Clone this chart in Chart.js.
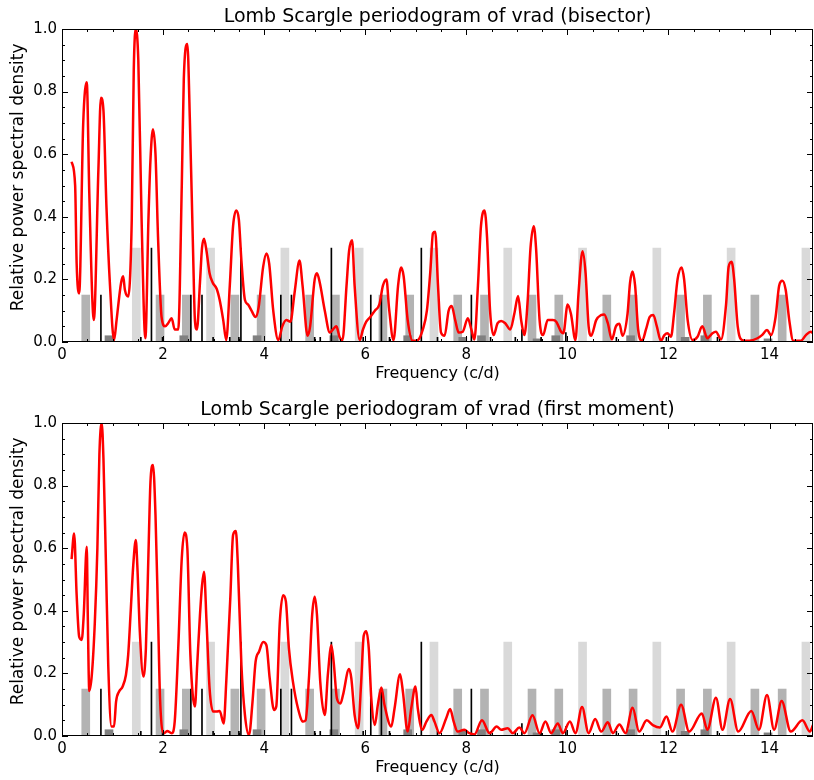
<!DOCTYPE html>
<html>
<head>
<meta charset="utf-8">
<script src="https://cdn.jsdelivr.net/npm/chart.js@4.4.0/dist/chart.umd.min.js"></script>
<style>
body{margin:0;background:#fff}
canvas{display:block}
</style>
</head>
<body>
<canvas id="top" width="814" height="390"></canvas>
<canvas id="bottom" width="814" height="390"></canvas>
<script>
// window / alias markers (c/d), same in both panels
var lightFreq=[1.47,2.94,4.41,5.88,7.36,8.82,10.30,11.77,13.24,14.72];
var lightHeight=0.3;
var medFreq=[0.47,1.94,2.46,3.42,3.94,4.90,5.41,6.35,6.88,7.83,8.36,9.30,9.83,10.78,11.30,12.24,12.77,13.71,14.25];
var medHeight=0.15;
var darkFreq=[0.93,2.41,3.86,5.38,6.84,7.93,8.30,9.40,9.77,11.25,12.33,12.72,13.97];
var darkHeight=[0.02,0.02,0.02,0.02,0.02,0.015,0.02,0.01,0.02,0.02,0.015,0.02,0.01];
var blackFreq=[0.77,1.56,1.77,1.99,2.55,2.77,2.99,3.32,3.50,3.54,4.33,4.54,5.00,5.11,5.33,5.96,6.11,6.32,6.48,7.11,7.43,8.10,8.48,8.97,9.10,9.48,9.97,10.97,11.96,12.97];
var blackHeight=[0.15,0.015,0.3,0.015,0.15,0.15,0.015,0.015,0.015,0.3,0.15,0.15,0.015,0.015,0.3,0.015,0.15,0.15,0.015,0.3,0.015,0.15,0.015,0.015,0.04,0.015,0.03,0.015,0.015,0.015];

// periodogram of vrad (bisector)
var bisFreq=[0.19,0.26,0.29,0.34,0.42,0.49,0.54,0.63,0.72,0.77,0.82,0.88,0.95,1.03,1.08,1.17,1.21,1.245,1.31,1.38,1.42,1.46,1.51,1.575,1.65,1.71,1.75,1.80,1.85,1.90,1.97,2.04,2.10,2.17,2.23,2.30,2.37,2.41,2.48,2.53,2.595,2.63,2.67,2.73,2.77,2.81,2.86,2.92,2.98,3.06,3.12,3.19,3.25,3.32,3.385,3.45,3.50,3.55,3.62,3.68,3.75,3.83,3.89,3.98,4.045,4.10,4.18,4.28,4.36,4.44,4.52,4.60,4.70,4.76,4.86,4.91,5.00,5.045,5.10,5.20,5.30,5.36,5.43,5.49,5.55,5.63,5.68,5.74,5.79,5.89,5.955,6.02,6.10,6.19,6.28,6.35,6.42,6.47,6.56,6.65,6.71,6.76,6.84,6.94,7.04,7.14,7.22,7.29,7.34,7.385,7.44,7.50,7.57,7.65,7.71,7.78,7.85,7.93,8.03,8.10,8.16,8.23,8.29,8.36,8.41,8.47,8.54,8.62,8.69,8.77,8.87,8.95,9.025,9.085,9.15,9.215,9.27,9.335,9.38,9.45,9.52,9.61,9.71,9.78,9.875,9.92,10.005,10.07,10.16,10.22,10.30,10.36,10.42,10.47,10.57,10.665,10.73,10.80,10.88,10.96,11.03,11.09,11.19,11.24,11.29,11.34,11.40,11.48,11.555,11.63,11.70,11.77,11.85,11.92,11.98,12.05,12.11,12.18,12.26,12.31,12.38,12.48,12.575,12.67,12.77,12.87,12.94,13.04,13.14,13.19,13.25,13.30,13.37,13.46,13.60,13.76,13.85,13.95,14.03,14.12,14.19,14.255,14.32,14.39,14.47,14.62,14.72,14.815,14.86];
var bisPower=[0.576,0.50,0.25,0.155,0.70,0.83,0.475,0.07,0.55,0.78,0.74,0.43,0.18,0.006,0.07,0.19,0.21,0.166,0.145,0.39,0.87,1.0,0.90,0.39,0.012,0.39,0.58,0.68,0.60,0.336,0.08,0.05,0.06,0.076,0.04,0.04,0.50,0.84,0.952,0.71,0.28,0.07,0.04,0.19,0.30,0.33,0.29,0.22,0.19,0.17,0.134,0.07,0.006,0.18,0.37,0.42,0.39,0.26,0.134,0.12,0.10,0.08,0.11,0.24,0.283,0.25,0.10,0.006,0.05,0.07,0.065,0.155,0.26,0.18,0.02,0.05,0.20,0.22,0.19,0.10,0.03,0.04,0.05,0.017,0.006,0.18,0.29,0.325,0.18,0.006,0.04,0.065,0.08,0.10,0.12,0.18,0.20,0.11,0.006,0.18,0.238,0.21,0.07,0.004,0.006,0.04,0.10,0.23,0.347,0.352,0.18,0.03,0.02,0.10,0.115,0.07,0.03,0.033,0.076,0.04,0.008,0.18,0.37,0.42,0.336,0.10,0.022,0.06,0.067,0.06,0.04,0.09,0.147,0.07,0.022,0.134,0.30,0.37,0.30,0.07,0.022,0.07,0.07,0.065,0.033,0.028,0.12,0.09,0.006,0.155,0.29,0.22,0.05,0.02,0.07,0.086,0.088,0.06,0.008,0.05,0.058,0.02,0.09,0.19,0.225,0.18,0.04,0.004,0.04,0.08,0.086,0.05,0.004,0.022,0.028,0.017,0.09,0.20,0.238,0.20,0.07,0.006,0.017,0.05,0.012,0.028,0.033,0.008,0.12,0.24,0.256,0.20,0.05,0.006,0.004,0.012,0.022,0.038,0.022,0.08,0.18,0.196,0.166,0.07,0.004,0.004,0.022,0.033,0.028];

// periodogram of vrad (first moment)
var fmFreq=[0.19,0.24,0.29,0.34,0.39,0.43,0.49,0.51,0.54,0.59,0.65,0.70,0.74,0.785,0.82,0.87,0.915,0.98,1.03,1.07,1.13,1.20,1.265,1.31,1.36,1.41,1.46,1.49,1.54,1.61,1.66,1.71,1.75,1.80,1.85,1.90,1.94,2.02,2.08,2.17,2.23,2.30,2.37,2.425,2.48,2.54,2.63,2.675,2.73,2.77,2.81,2.86,2.92,2.99,3.06,3.12,3.20,3.25,3.33,3.385,3.44,3.48,3.55,3.62,3.70,3.77,3.83,3.90,3.98,4.045,4.11,4.195,4.24,4.31,4.375,4.43,4.49,4.57,4.67,4.77,4.82,4.89,4.95,5.00,5.045,5.11,5.20,5.26,5.33,5.375,5.44,5.51,5.56,5.68,5.725,5.79,5.86,5.92,5.97,6.02,6.07,6.12,6.19,6.25,6.32,6.38,6.515,6.58,6.69,6.745,6.84,6.91,6.995,7.04,7.13,7.21,7.31,7.37,7.47,7.60,7.68,7.75,7.83,7.96,8.06,8.16,8.31,8.46,8.60,8.69,8.82,8.92,9.05,9.15,9.31,9.45,9.565,9.68,9.81,9.91,10.05,10.16,10.29,10.42,10.55,10.67,10.80,10.90,11.03,11.15,11.29,11.42,11.57,11.69,11.83,11.96,12.08,12.25,12.41,12.66,12.77,12.94,13.07,13.22,13.38,13.64,13.79,13.95,14.09,14.24,14.42,14.65,14.80,14.86];
var fmPower=[0.565,0.647,0.45,0.317,0.307,0.387,0.605,0.387,0.144,0.195,0.365,0.60,0.90,1.0,0.887,0.546,0.227,0.03,0.03,0.11,0.142,0.158,0.195,0.26,0.40,0.546,0.626,0.546,0.333,0.19,0.28,0.578,0.81,0.866,0.706,0.387,0.12,0.009,0.016,0.009,0.046,0.28,0.568,0.65,0.60,0.26,0.094,0.227,0.387,0.48,0.525,0.365,0.152,0.078,0.078,0.08,0.04,0.173,0.44,0.642,0.655,0.546,0.227,0.067,0.003,0.11,0.237,0.27,0.30,0.29,0.184,0.083,0.094,0.365,0.45,0.43,0.28,0.173,0.088,0.046,0.05,0.195,0.387,0.445,0.387,0.173,0.067,0.195,0.29,0.237,0.12,0.104,0.131,0.214,0.184,0.067,0.025,0.173,0.32,0.335,0.28,0.12,0.035,0.10,0.155,0.10,0.03,0.088,0.197,0.142,0.014,0.088,0.158,0.088,0.02,0.046,0.067,0.046,0.009,0.056,0.086,0.046,0.014,0.02,0.009,0.005,0.05,0.009,0.03,0.02,0.025,0.009,0.027,0.009,0.066,0.009,0.046,0.009,0.04,0.009,0.046,0.009,0.093,0.009,0.054,0.014,0.044,0.009,0.037,0.009,0.09,0.014,0.05,0.035,0.027,0.062,0.014,0.10,0.014,0.072,0.02,0.122,0.02,0.118,0.014,0.08,0.02,0.131,0.02,0.112,0.014,0.05,0.014,0.035];

var FONT='DejaVu Sans';

function pts(xs,ys){
  var out=[];
  for(var i=0;i<xs.length;i++){
    out.push({x:xs[i],y:(typeof ys==='number')?ys:ys[i]});
  }
  return out;
}

// matplotlib-like frame with inward ticks on all four sides
var frameTicks={
  id:'frameTicks',
  afterDraw:function(chart){
    var ctx=chart.ctx,a=chart.chartArea,xs=chart.scales.x,ys=chart.scales.y;
    ctx.save();
    ctx.strokeStyle='#000';
    ctx.lineWidth=1;
    ctx.beginPath();
    for(var i=0;i*0.5<=xs.max;i++){
      var px=Math.round(xs.getPixelForValue(i*0.5))+0.5;
      var len=(i%4==0)?6:3;
      ctx.moveTo(px,a.bottom);ctx.lineTo(px,a.bottom-len);
      ctx.moveTo(px,a.top);ctx.lineTo(px,a.top+len);
    }
    for(var j=0;j<=20;j++){
      var py=Math.round(ys.getPixelForValue(j*0.05))+0.5;
      var l2=(j%4==0)?6:3;
      ctx.moveTo(a.left,py);ctx.lineTo(a.left+l2,py);
      ctx.moveTo(a.right,py);ctx.lineTo(a.right-l2,py);
    }
    ctx.stroke();
    ctx.strokeRect(Math.round(a.left)+0.5,Math.round(a.top)+0.5,Math.round(a.width)-1,Math.round(a.height)-1);
    ctx.restore();
  }
};

function makeChart(id,title,freq,power,opt){
  new Chart(document.getElementById(id),{
    type:'bar',
    data:{
      datasets:[
        {type:'line',data:pts(freq,power),borderColor:'#ff0000',borderWidth:2.5,pointRadius:0,
         cubicInterpolationMode:'monotone',order:0},
        {data:pts(blackFreq,blackHeight),backgroundColor:'#000000',barThickness:1,grouped:false,order:1},
        {data:pts(darkFreq,darkHeight),backgroundColor:'#808080',barThickness:8,grouped:false,order:2},
        {data:pts(medFreq,medHeight),backgroundColor:'#b3b3b3',barThickness:8,grouped:false,order:3},
        {data:pts(lightFreq,lightHeight),backgroundColor:'#d9d9d9',barThickness:8,grouped:false,order:4}
      ]
    },
    options:{
      responsive:false,
      animation:false,
      layout:{padding:{right:1}},
      plugins:{
        legend:{display:false},
        tooltip:{enabled:false},
        title:{display:true,text:title,color:'#000',fullSize:false,
          font:{family:FONT,size:19,weight:'normal'},padding:opt.titlePad}
      },
      scales:{
        x:{type:'linear',min:0,max:14.86,offset:false,
          grid:{display:false,drawTicks:false},border:{display:false},
          ticks:{stepSize:2,includeBounds:false,padding:4,color:'#000',font:{family:FONT,size:15},
            callback:function(v){return v;}},
          title:{display:true,text:'Frequency (c/d)',color:'#000',font:{family:FONT,size:16},
            padding:{top:0,bottom:opt.xTitleBottom}},
          afterFit:function(s){s.height=opt.xHeight;}
        },
        y:{type:'linear',min:0,max:1,
          grid:{display:false,drawTicks:false},border:{display:false},
          ticks:{stepSize:0.2,padding:5,color:'#000',font:{family:FONT,size:15},
            callback:function(v){return v.toFixed(1);}},
          title:{display:true,text:'   Relative power spectral density',color:'#000',font:{family:FONT,size:17},
            padding:{top:8,bottom:0}},
          afterFit:function(s){s.width=62;}
        }
      }
    },
    plugins:[frameTicks]
  });
}

makeChart('top','Lomb Scargle periodogram of vrad (bisector)',bisFreq,bisPower,
  {titlePad:{top:5.6,bottom:0.6},xHeight:48,xTitleBottom:7});
makeChart('bottom','Lomb Scargle periodogram of vrad (first moment)',fmFreq,fmPower,
  {titlePad:{top:8.6,bottom:1.6},xHeight:44,xTitleBottom:3});
</script>
</body>
</html>
